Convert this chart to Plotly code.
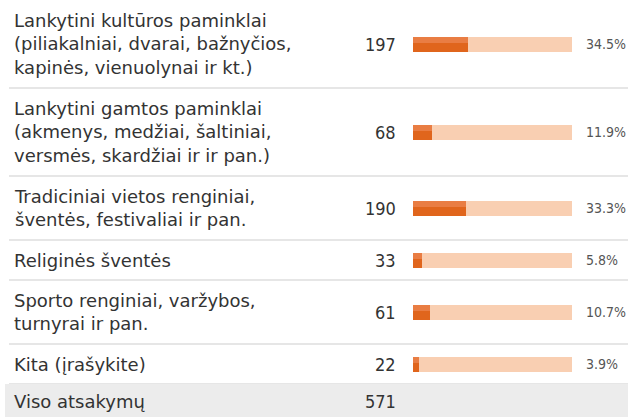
import plotly.graph_objects as go

# Survey answers
categories = [
    "Lankytini kultūros paminklai<br>(piliakalniai, dvarai, bažnyčios,<br>kapinės, vienuolynai ir kt.)",
    "Lankytini gamtos paminklai<br>(akmenys, medžiai, šaltiniai,<br>versmės, skardžiai ir ir pan.)",
    "Tradiciniai vietos renginiai,<br>šventės, festivaliai ir pan.",
    "Religinės šventės",
    "Sporto renginiai, varžybos,<br>turnyrai ir pan.",
    "Kita (įrašykite)",
]
counts = [197, 68, 190, 33, 61, 22]
total_label = "Viso atsakymų"
total = 571

W, H = 628, 417
PAD, LINE_H = 16, 24
SANS = "DejaVu Sans, sans-serif"
COND = "DejaVu Sans Condensed, DejaVu Sans, sans-serif"

# row layout from number of text lines
tops, centers = [], []
y = 0
for c in categories:
    n = c.count("<br>") + 1
    h = PAD + LINE_H * n
    tops.append(y)
    centers.append(y + h / 2)
    y += h
table_end = y

pct = [100.0 * c / total for c in counts]

fig = go.Figure()

# background track
fig.add_trace(go.Bar(
    x=[100] * len(counts), y=centers, orientation="h", width=15,
    marker=dict(color="#f9cfb2", line_width=0),
    xaxis="x2", yaxis="y", hoverinfo="skip", showlegend=False,
))
# share bars (darker base + lighter top band)
fig.add_trace(go.Bar(
    x=pct, y=centers, orientation="h", width=15,
    marker=dict(color="#e0651c", line_width=0),
    xaxis="x2", yaxis="y", showlegend=False,
))
fig.add_trace(go.Bar(
    x=pct, y=[c - 4.5 for c in centers], orientation="h", width=6,
    marker=dict(color="#e97d43", line_width=0),
    xaxis="x2", yaxis="y", hoverinfo="skip", showlegend=False,
))

shapes = []
for t in tops[1:] + [table_end]:
    shapes.append(dict(type="line", xref="paper", yref="y", x0=9 / W, x1=1, y0=t, y1=t,
                       line=dict(color="#dedede", width=1.5), layer="below"))
shapes.append(dict(type="rect", xref="paper", yref="y", x0=5 / W, x1=1, y0=table_end, y1=H,
                   fillcolor="#ececec", line_width=0, layer="below"))

annotations = []
for cat, cnt, p, cy in zip(categories, counts, pct, centers):
    annotations.append(dict(x=12, y=cy, xref="x", yref="y", text=cat, showarrow=False,
                            xanchor="left", yanchor="middle", align="left",
                            font=dict(family=SANS, size=18, color="#333333")))
    annotations.append(dict(x=398, y=cy, xref="x", yref="y", text=str(cnt), showarrow=False,
                            xanchor="right", yanchor="middle",
                            font=dict(family=COND, size=18, color="#333333")))
    annotations.append(dict(x=584, y=cy, xref="x", yref="y", text=f"{p:.1f}%", showarrow=False,
                            xanchor="left", yanchor="middle",
                            font=dict(family=COND, size=14, color="#555555")))

tot_cy = (table_end + H) / 2 + 1
annotations.append(dict(x=12, y=tot_cy, xref="x", yref="y", text=total_label, showarrow=False,
                        xanchor="left", yanchor="middle",
                        font=dict(family=SANS, size=18, color="#333333")))
annotations.append(dict(x=398, y=tot_cy, xref="x", yref="y", text=str(total), showarrow=False,
                        xanchor="right", yanchor="middle",
                        font=dict(family=COND, size=18, color="#333333")))

fig.update_layout(
    width=W, height=H, margin=dict(l=0, r=0, t=0, b=0),
    paper_bgcolor="white", plot_bgcolor="rgba(0,0,0,0)",
    barmode="overlay", bargap=0,
    xaxis=dict(range=[0, W], domain=[0, 1], visible=False, fixedrange=True),
    xaxis2=dict(range=[0, 100], domain=[413 / W, 572 / W], anchor="y",
                visible=False, fixedrange=True),
    yaxis=dict(range=[H, 0], domain=[0, 1], visible=False, fixedrange=True),
    shapes=shapes, annotations=annotations,
)

fig.write_html("out.html")
